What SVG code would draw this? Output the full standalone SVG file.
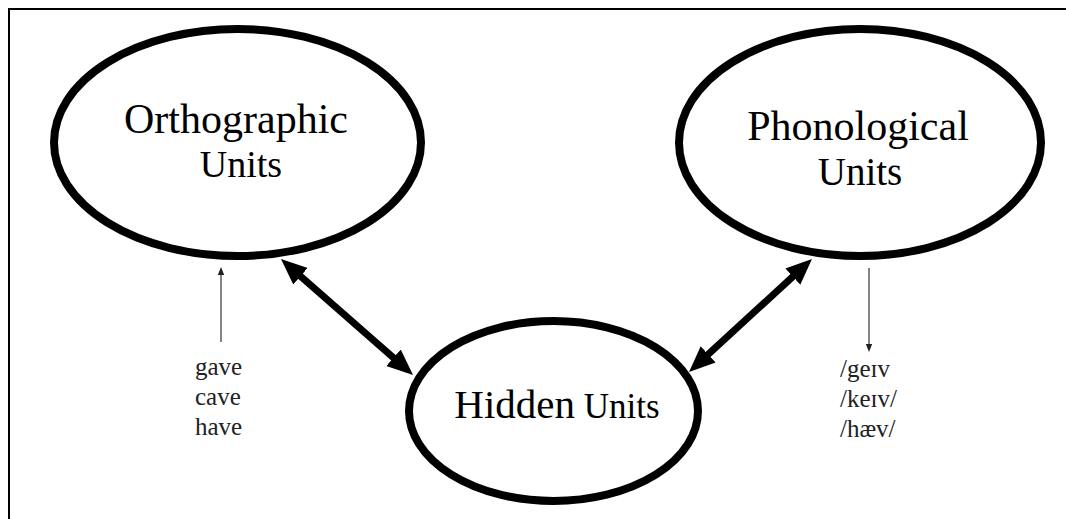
<svg xmlns="http://www.w3.org/2000/svg" width="1066" height="519" viewBox="0 0 1066 519">
<style>
.node{fill:#fff;stroke:#000;stroke-width:8}
.t{font-family:"Liberation Serif","Times New Roman",serif;fill:#000;text-anchor:middle}
.s{font-family:"Liberation Serif","DejaVu Serif",serif;fill:#222;font-size:25px}
.thick{stroke:#000;stroke-width:7;fill:none}
.thin{stroke:#333;stroke-width:1.2;fill:none}
</style>
<defs>
<marker id="big" markerUnits="userSpaceOnUse" markerWidth="28" markerHeight="24" viewBox="0 0 28 24" refX="10" refY="12" orient="auto-start-reverse">
<path d="M0,1 L26,12 L0,23 z" fill="#000"/>
</marker>
<marker id="small" markerUnits="userSpaceOnUse" markerWidth="10" markerHeight="8" viewBox="0 0 10 8" refX="0" refY="4" orient="auto">
<path d="M0,0.8 L8,4 L0,7.2 z" fill="#222"/>
</marker>
</defs>
<rect width="1066" height="519" fill="#fff"/>
<path d="M9,519 V9 H1066" fill="none" stroke="#000" stroke-width="2"/>
<g id="connectors">
<line class="thick" x1="293" y1="269.6" x2="401" y2="364.4" marker-start="url(#big)" marker-end="url(#big)"/>
<line class="thick" x1="800.2" y1="269.8" x2="700.8" y2="361.2" marker-start="url(#big)" marker-end="url(#big)"/>
<line class="thin" x1="221" y1="342" x2="221" y2="275" marker-end="url(#small)"/>
<line class="thin" x1="869" y1="268" x2="869" y2="344" marker-end="url(#small)"/>
</g>
<g id="orthographic">
<ellipse class="node" cx="237.5" cy="142.5" rx="183.5" ry="113.5"/>
<text class="t" x="236" y="133" font-size="42">Orthographic</text>
<text class="t" x="241" y="177" font-size="38">Units</text>
</g>
<g id="phonological">
<ellipse class="node" cx="860" cy="142.5" rx="181" ry="113.5"/>
<text class="t" x="858" y="140" font-size="42">Phonological</text>
<text class="t" x="860" y="185" font-size="39">Units</text>
</g>
<g id="hidden">
<ellipse class="node" cx="553.5" cy="411" rx="144.5" ry="90" stroke-width="7"/>
<text class="t" x="557" y="418" font-size="41"><tspan>Hidden</tspan><tspan font-size="35"> Units</tspan></text>
</g>
<g id="orth-examples">
<text class="s" x="195" y="375">gave</text>
<text class="s" x="195" y="405">cave</text>
<text class="s" x="195" y="435">have</text>
</g>
<g id="phon-examples">
<text class="s" x="840" y="377">/geɪv</text>
<text class="s" x="840" y="407">/keɪv/</text>
<text class="s" x="840" y="437">/hæv/</text>
</g>
</svg>
